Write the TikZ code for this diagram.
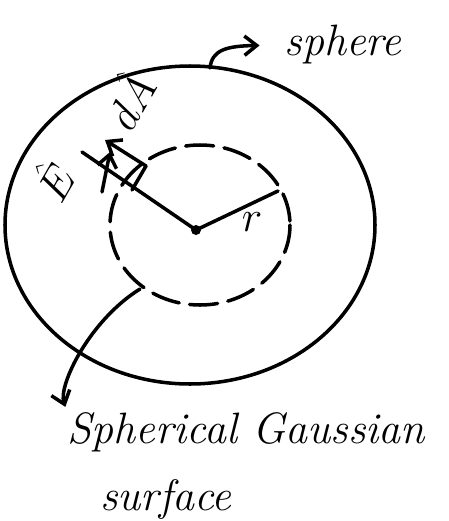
\documentclass[tikz,border=0pt]{standalone}
\usetikzlibrary{positioning, arrows.meta, calc}
\usepackage{amsmath}

\begin{document}
\begin{tikzpicture}[x=0.02cm, y=-0.02cm,
    pen/.style={line width=2pt, line cap=round, line join=round},
    penarrow/.style={pen, -{Straight Barb[length=7pt, width=11pt, line width=2pt]}},
    hand/.style={font=\fontsize{25}{30}\selectfont\itshape, inner sep=0pt}]
  \useasboundingbox (0,0) rectangle (449,521);
  % sphere and gaussian surface
  \draw[pen] (190,225) ellipse [x radius=185, y radius=159];
  \draw[pen, dash pattern=on 16pt off 6pt] (200,225) ellipse [x radius=90, y radius=80];
  \coordinate (ctr) at (196,230);
  \fill (ctr) circle [radius=5];
  \coordinate (redge) at (278,191);
  \draw[pen] (ctr) -- (redge);
  \node[hand] (rlbl) at (252,222) {$r$};
  % radial line with field and area vectors
  \coordinate (rim) at (82,152);
  \draw[pen] (ctr) -- (rim);
  \coordinate (da0) at (132,190);
  \coordinate (da1) at (146,166);
  \coordinate (datip) at (105,140);
  \draw[pen] (da0) -- (da1);
  \draw[penarrow] (da1) -- (datip);
  \coordinate (e0) at (102,192);
  \coordinate (e1) at (110,152);
  \draw[penarrow] (e0) -- (e1);
  \node[hand, rotate=60] (elbl) at (52,180) {$\hat{E}$};
  \node[hand, rotate=60] (dalbl) at (127,100) {$d\hat{A}$};
  % labels
  \coordinate (sphtop) at (210,68);
  \node[hand] (sphlbl) at (343,45) {sphere};
  \draw[penarrow, shorten >=14pt] (sphtop) .. controls (212,50) and (226,46) .. (sphlbl.west);
  \node[hand, anchor=west] (gauss) at (67,432) {Spherical Gaussian};
  \node[hand, anchor=west] (surf) at (100,500) {surface};
  \coordinate (gsstart) at (140,289);
  \draw[penarrow, shorten >=3pt] (gsstart) .. controls (90,320) and (58,385) .. (gauss.north west);
\end{tikzpicture}
\end{document}
